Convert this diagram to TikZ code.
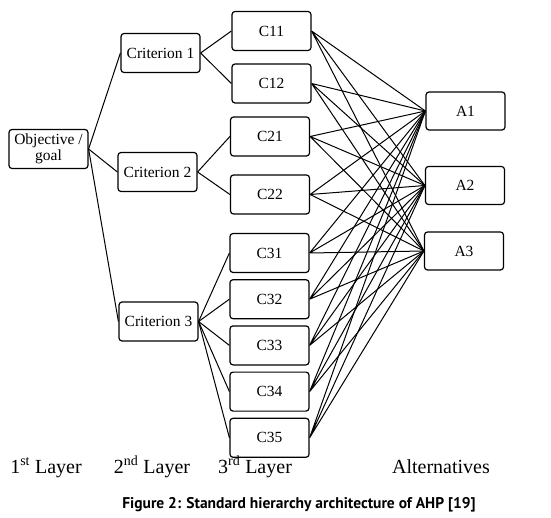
\documentclass[tikz,border=0pt]{standalone}
\usepackage{fontspec}
\setmainfont{Liberation Serif}
\newfontfamily\capfont{PT Sans}
\usepackage{tikz}
\usetikzlibrary{positioning}

\begin{document}
\begin{tikzpicture}[
  x=1pt, y=-1pt,
  box/.style={draw, line width=1.2pt, rounded corners=3pt, minimum width=79pt, minimum height=39pt, inner sep=0pt, font=\fontsize{15.5}{16}\selectfont, align=center},
  layer/.style={anchor=base, font=\fontsize{20}{22}\selectfont},
  link/.style={line width=1pt},
  node distance=6pt,
]
\useasboundingbox (0,0) rectangle (551,518);
% goal and criteria
\node[box] (goal) at (48.5,149) {Objective /\\goal};
\node[box] (crit1) at (160.5,53) {Criterion 1};
\node[box] (crit2) at (157.5,172) {Criterion 2};
\node[box] (crit3) at (158.5,321.5) {Criterion 3};
% sub-criteria
\node[box] (c11) at (271.5,31) {C11};
\node[box] (c12) at (271.5,83.5) {C12};
\node[box] (c21) at (270,136.5) {C21};
\node[box] (c22) at (270,194.5) {C22};
\node[box] (c31) at (269.5,253) {C31};
\node[box, below=of c31] (c32) {C32};
\node[box, below=of c32] (c33) {C33};
\node[box, below=of c33] (c34) {C34};
\node[box, below=of c34] (c35) {C35};
% alternatives
\node[box, minimum height=38pt] (alt1) at (465.5,111) {A1};
\node[box, minimum height=38pt] (alt2) at (465,185.5) {A2};
\node[box, minimum height=38pt] (alt3) at (464,251) {A3};
% layer captions
\node[layer] (lay1) at (46,473) {1\textsuperscript{st} Layer};
\node[layer] (lay2) at (152,473) {2\textsuperscript{nd} Layer};
\node[layer] (lay3) at (255,473) {3\textsuperscript{rd} Layer};
\node[layer] (layalt) at (441,473) {Alternatives};
\node[anchor=base, font=\capfont\bfseries\fontsize{15.5}{17}\selectfont] (figcap) at (299,508) {Figure 2: Standard hierarchy architecture of AHP [19]};
\draw[link] (goal.east) -- (crit1.west);
\draw[link] (goal.east) -- (crit2.west);
\draw[link] (goal.east) -- (crit3.west);
\draw[link] (crit1.east) -- (c11.west);
\draw[link] (crit1.east) -- (c12.west);
\draw[link] (crit2.east) -- (c21.west);
\draw[link] (crit2.east) -- (c22.west);
\draw[link] (crit3.east) -- (c31.west);
\draw[link] (crit3.east) -- (c32.west);
\draw[link] (crit3.east) -- (c33.west);
\draw[link] (crit3.east) -- (c34.west);
\draw[link] (crit3.east) -- (c35.west);
\draw[link] (c11.east) -- (alt1.west) (c11.east) -- (alt2.west) (c11.east) -- (alt3.west);
\draw[link] (c12.east) -- (alt1.west) (c12.east) -- (alt2.west) (c12.east) -- (alt3.west);
\draw[link] (c21.east) -- (alt1.west) (c21.east) -- (alt2.west) (c21.east) -- (alt3.west);
\draw[link] (c22.east) -- (alt1.west) (c22.east) -- (alt2.west) (c22.east) -- (alt3.west);
\draw[link] (c31.east) -- (alt1.west) (c31.east) -- (alt2.west) (c31.east) -- (alt3.west);
\draw[link] (c32.east) -- (alt1.west) (c32.east) -- (alt2.west) (c32.east) -- (alt3.west);
\draw[link] (c33.east) -- (alt1.west) (c33.east) -- (alt2.west) (c33.east) -- (alt3.west);
\draw[link] (c34.east) -- (alt1.west) (c34.east) -- (alt2.west) (c34.east) -- (alt3.west);
\draw[link] (c35.east) -- (alt1.west) (c35.east) -- (alt2.west) (c35.east) -- (alt3.west);
\end{tikzpicture}
\end{document}
